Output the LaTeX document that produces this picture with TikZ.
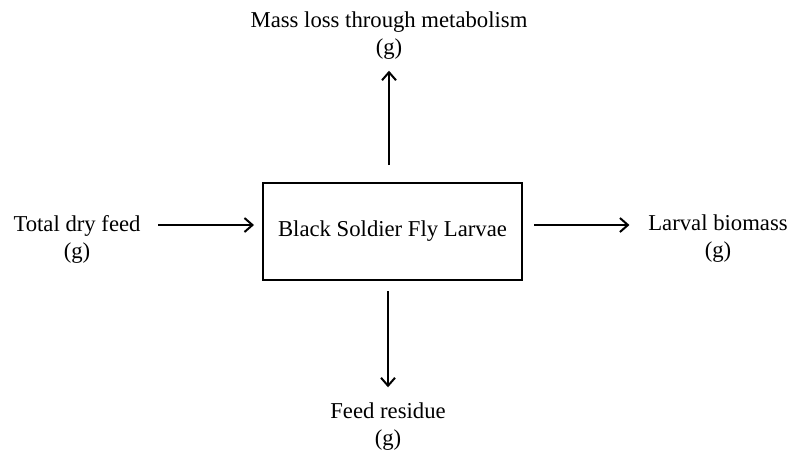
\documentclass[tikz,border=0pt]{standalone}
\usepackage{fontspec}
\setmainfont{Liberation Serif}
\usetikzlibrary{arrows.meta}

\begin{document}
\begin{tikzpicture}[x=0.5pt,y=-0.5pt,
  every node/.style={font=\fontsize{11.35}{13.5}\selectfont},
  label/.style={inner sep=0pt,align=center},
  larvae/.style={draw,line width=1pt,minimum width=129.5pt,minimum height=48.5pt,inner sep=0pt},
  flow/.style={line width=1pt,-{Straight Barb[length=4pt,width=7pt,line width=1pt]}}]
  \useasboundingbox (0,0) rectangle (790,450);
  %box
  \node[larvae] (box) at (392.5,231.5) {Black Soldier Fly Larvae};
  %labels
  \node[label] (top) at (389,35.5) {Mass loss through metabolism\\(g)};
  \node[label] (feed) at (77,239) {Total dry feed\\(g)};
  \node[label] (mass) at (718,239) {Larval biomass\\(g)};
  \node[label] (res) at (388,426.5) {Feed residue\\(g)};
  %arrows
  \draw[flow,shorten <=8.75pt,shorten >=4pt] ([yshift=7pt]feed.east) -- ([yshift=7pt]feed.east -| box.west);
  \draw[flow,shorten <=5.5pt,shorten >=9.25pt] ([yshift=7pt]mass.west -| box.east) -- ([yshift=7pt]mass.west);
  \draw[flow,shorten <=8.5pt,shorten >=5.5pt] (box.north -| top.south) -- (top.south);
  \draw[flow,shorten <=5pt,shorten >=7.5pt] (box.south -| res.north) -- (res.north);
\end{tikzpicture}
\end{document}
